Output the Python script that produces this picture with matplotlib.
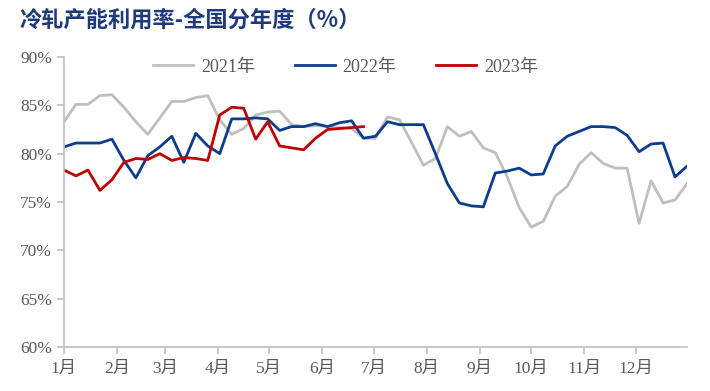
import numpy as np
import matplotlib.pyplot as plt

# weekly capacity utilisation (%), one point per week from Jan 1
Y2021 = [83.3, 85.1, 85.1, 86.0, 86.1, 84.8, 83.3, 82.0, 83.7, 85.4,
         85.4, 85.8, 86.0, 83.5, 82.0, 82.6, 84.0, 84.3, 84.4, 83.0,
         82.8, 82.9, 82.8, 82.7, 82.6, 81.6, 81.6, 83.8, 83.5, 81.2,
         78.8, 79.5, 82.8, 81.8, 82.3, 80.6, 80.1, 77.6, 74.4, 72.4,
         73.0, 75.6, 76.6, 78.9, 80.1, 79.0, 78.5, 78.5, 72.8, 77.2,
         74.9, 75.2, 76.9]
Y2022 = [80.7, 81.1, 81.1, 81.1, 81.5, 79.3, 77.5, 79.8, 80.7, 81.8,
         79.1, 82.1, 80.8, 80.0, 83.6, 83.6, 83.7, 83.6, 82.4, 82.8,
         82.8, 83.1, 82.8, 83.2, 83.4, 81.6, 81.8, 83.3, 83.0, 83.0,
         83.0, 80.0, 76.9, 74.9, 74.6, 74.5, 78.0, 78.2, 78.5, 77.8,
         77.9, 80.8, 81.8, 82.3, 82.8, 82.8, 82.7, 81.9, 80.2, 81.0,
         81.1, 77.6, 78.7]
Y2023 = [78.3, 77.7, 78.3, 76.2, 77.3, 79.1, 79.5, 79.4, 80.0, 79.3,
         79.6, 79.5, 79.3, 84.0, 84.8, 84.7, 81.5, 83.3, 80.8, 80.6,
         80.4, 81.6, 82.5, 82.6, 82.7, 82.8]

MONTH_START = [0, 31, 59, 90, 120, 151, 181, 212, 243, 273, 304, 334]
MONTH_LABELS = [f'{m}月' for m in range(1, 13)]
Y_TICKS = [60, 65, 70, 75, 80, 85, 90]

TEXT_FONT = ['Liberation Serif', 'Noto Sans CJK SC']
plt.rcParams['font.family'] = TEXT_FONT

fig = plt.figure(figsize=(7.1, 3.91), dpi=100)
ax = fig.add_axes([64 / 710, 1 - 347 / 391, 623 / 710, 290 / 391])

series = [('2021年', Y2021, '#BFBFBF'),
          ('2022年', Y2022, '#0B3D8C'),
          ('2023年', Y2023, '#C00000')]
for label, vals, color in series:
    days = np.arange(len(vals)) * 7
    ax.plot(days, vals, color=color, lw=2.0, label=label)

ax.set_xlim(0, 364)
ax.set_ylim(60, 90)
ax.set_xticks(MONTH_START)
ax.set_xticklabels(MONTH_LABELS)
ax.set_yticks(Y_TICKS)
ax.set_yticklabels([f'{v}%' for v in Y_TICKS])

for side in ['top', 'right']:
    ax.spines[side].set_visible(False)
for side in ['left', 'bottom']:
    ax.spines[side].set_color('#BFBFBF')
    ax.spines[side].set_linewidth(1.2)
ax.tick_params(axis='both', colors='#BFBFBF', length=5, width=1.2,
               labelcolor='#595959', labelsize=12.5)
ax.tick_params(axis='x', pad=5)

leg = ax.legend(loc='upper center', bbox_to_anchor=(0.452, 1.05), ncol=3,
                frameon=False, fontsize=13, handlelength=2.2,
                handletextpad=0.45, columnspacing=2.2)
for t in leg.get_texts():
    t.set_color('#595959')

fig.text(20 / 710, 1 - 20 / 391, '冷轧产能利用率-全国分年度（%）',
         family=['Noto Sans CJK SC'], fontweight='bold', fontsize=16,
         color='#1F3A7A', va='center', ha='left')

fig.savefig('out.png', dpi=100)
